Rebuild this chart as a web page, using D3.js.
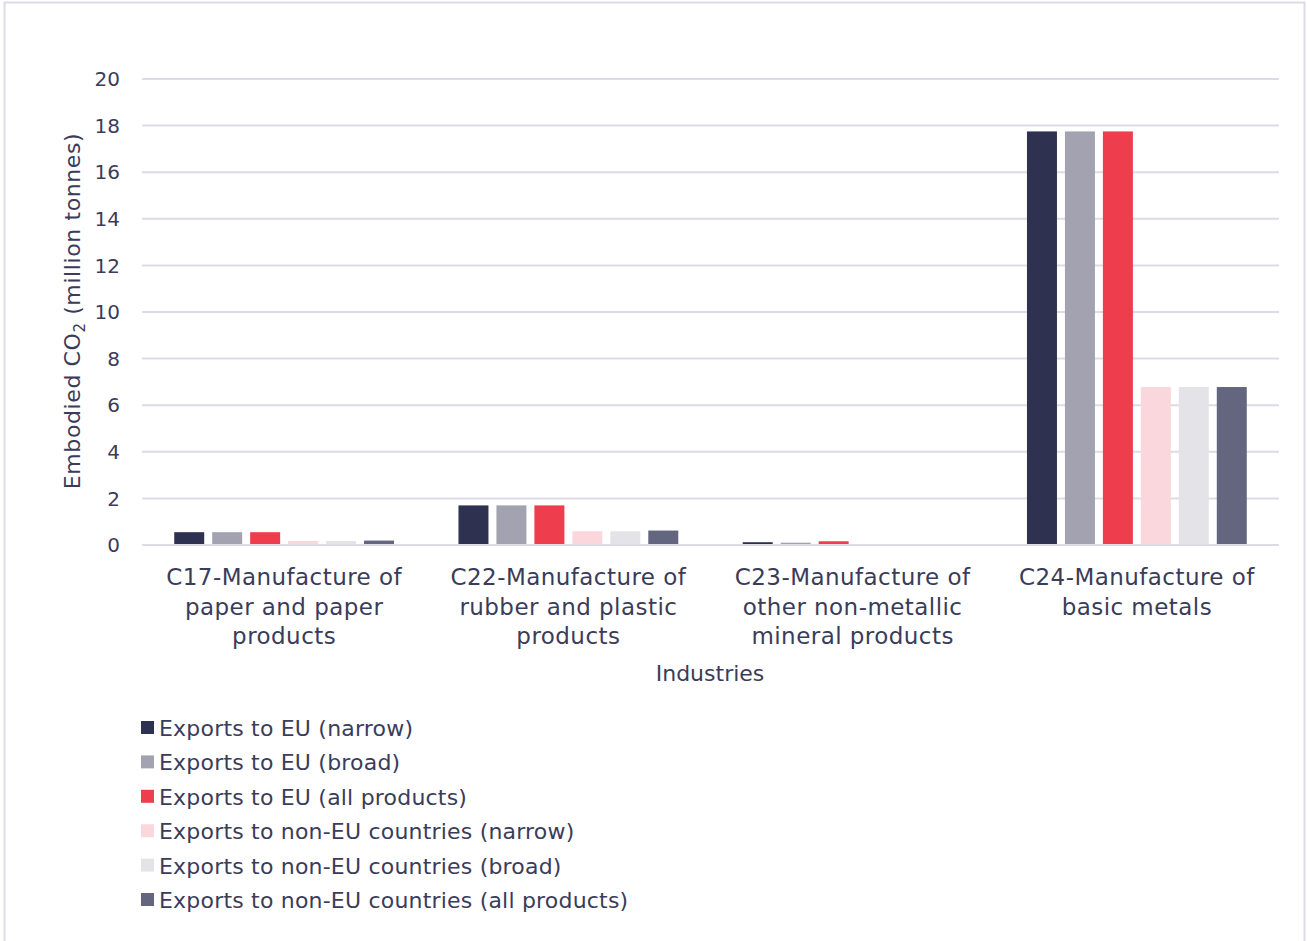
<!DOCTYPE html>
<html>
<head>
<meta charset="utf-8">
<script src="https://cdn.jsdelivr.net/npm/d3@7"></script>
<style>
  html, body { margin: 0; padding: 0; background: #ffffff; }
  svg { display: block; }
  text { font-family: "DejaVu Sans", "Noto Sans", sans-serif; fill: #3a3c5a; }
</style>
</head>
<body>
<svg id="chart" width="1307" height="941"></svg>
<script>
// Industry categories (each label split into display lines)
const categories = ["C17", "C22", "C23", "C24"];
const categoryLines = [
  ["C17-Manufacture of", "paper and paper", "products"],
  ["C22-Manufacture of", "rubber and plastic", "products"],
  ["C23-Manufacture of", "other non-metallic", "mineral products"],
  ["C24-Manufacture of", "basic metals"]
];

// Series names and colours
const seriesNames = [
  "Exports to EU (narrow)",
  "Exports to EU (broad)",
  "Exports to EU (all products)",
  "Exports to non-EU countries (narrow)",
  "Exports to non-EU countries (broad)",
  "Exports to non-EU countries (all products)"
];
const seriesColors = ["#2e3150", "#a3a2b0", "#ee3d4c", "#fad7dc", "#e4e3e8", "#64657f"];

// Embodied CO2 (million tonnes), one array per series, in category order
const euNarrow     = [0.55, 1.70, 0.12, 17.75];
const euBroad      = [0.55, 1.70, 0.10, 17.75];
const euAll        = [0.55, 1.70, 0.16, 17.75];
const nonEuNarrow  = [0.17, 0.59, 0.00, 6.78];
const nonEuBroad   = [0.17, 0.59, 0.00, 6.78];
const nonEuAll     = [0.19, 0.62, 0.00, 6.78];
const seriesValues = [euNarrow, euBroad, euAll, nonEuNarrow, nonEuBroad, nonEuAll];

// Y axis ticks
const yTicks = [0, 2, 4, 6, 8, 10, 12, 14, 16, 18, 20];

const svg = d3.select("#chart");
const gridColor = "#dcdbe8";

// Outer frame
svg.append("rect")
  .attr("x", 4.5).attr("y", 2.5)
  .attr("width", 1300).attr("height", 960)
  .attr("fill", "none")
  .attr("stroke", gridColor)
  .attr("stroke-width", 2);

const plot = { left: 142, right: 1279, top: 79, bottom: 545 };

const x0 = d3.scaleBand()
  .domain(categories)
  .range([plot.left, plot.right])
  .paddingInner(0.2)
  .paddingOuter(0.1);

const x1 = d3.scaleBand()
  .domain(d3.range(seriesNames.length))
  .range([0, x0.bandwidth()])
  .paddingInner(0.21)
  .paddingOuter(0.1);

const y = d3.scaleLinear()
  .domain([0, 20])
  .range([plot.bottom, plot.top]);

// Gridlines
svg.append("g")
  .selectAll("line")
  .data(yTicks)
  .join("line")
  .attr("x1", plot.left)
  .attr("x2", plot.right)
  .attr("y1", d => y(d))
  .attr("y2", d => y(d))
  .attr("stroke", gridColor)
  .attr("stroke-width", 2);

// Y tick labels
svg.append("g")
  .selectAll("text")
  .data(yTicks)
  .join("text")
  .attr("x", 120)
  .attr("y", d => y(d))
  .attr("dy", "0.36em")
  .attr("text-anchor", "end")
  .attr("font-size", 20)
  .text(d => d);

// Bars
const groups = svg.append("g")
  .selectAll("g")
  .data(categories)
  .join("g")
  .attr("transform", d => `translate(${x0(d)},0)`);

groups.selectAll("rect")
  .data((d, ci) => seriesValues.map((vals, si) => ({ si, v: vals[ci] })))
  .join("rect")
  .attr("x", d => x1(d.si))
  .attr("width", x1.bandwidth())
  .attr("y", d => y(d.v))
  .attr("height", d => y(0) - y(d.v))
  .attr("fill", d => seriesColors[d.si]);

// Redraw the baseline over the bars
svg.append("line")
  .attr("x1", plot.left).attr("x2", plot.right)
  .attr("y1", y(0)).attr("y2", y(0))
  .attr("stroke", gridColor).attr("stroke-width", 2);

// Category labels
const catLabels = svg.append("g")
  .selectAll("text")
  .data(categories)
  .join("text")
  .attr("text-anchor", "middle")
  .attr("font-size", 23)
  .attr("letter-spacing", 0.45)
  .attr("x", d => x0(d) + x0.bandwidth() / 2)
  .attr("y", 585);

catLabels.selectAll("tspan")
  .data((d, i) => categoryLines[i])
  .join("tspan")
  .attr("x", function () { return this.parentNode.getAttribute("x"); })
  .attr("dy", (d, i) => i === 0 ? 0 : 29.5)
  .text(d => d);

// X axis title
svg.append("text")
  .attr("x", 710)
  .attr("y", 681)
  .attr("text-anchor", "middle")
  .attr("font-size", 22)
  .text("Industries");

// Y axis title with subscript
const yTitle = svg.append("text")
  .attr("transform", `translate(80,${(plot.top + plot.bottom) / 2 - 1}) rotate(-90)`)
  .attr("text-anchor", "middle")
  .attr("font-size", 22)
  .attr("letter-spacing", 0.6);
yTitle.append("tspan").text("Embodied CO");
yTitle.append("tspan").attr("font-size", 15).attr("dy", 5).text("2");
yTitle.append("tspan").attr("dy", -5).text(" (million tonnes)");

// Legend
const legend = svg.append("g")
  .selectAll("g")
  .data(seriesNames)
  .join("g")
  .attr("transform", (d, i) => `translate(141,${728 + i * 34.4})`);

legend.append("rect")
  .attr("x", 0).attr("y", -7)
  .attr("width", 13).attr("height", 13)
  .attr("fill", (d, i) => seriesColors[i]);

legend.append("text")
  .attr("x", 18)
  .attr("y", 0)
  .attr("dy", "0.36em")
  .attr("font-size", 22)
  .attr("letter-spacing", 0.2)
  .text(d => d);
</script>
</body>
</html>
